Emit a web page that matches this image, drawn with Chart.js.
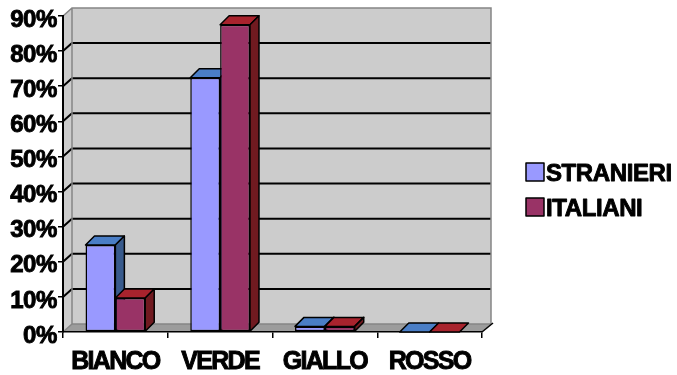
<!DOCTYPE html>
<html>
<head>
<meta charset="utf-8">
<script src="https://cdn.jsdelivr.net/npm/chart.js@4.4.1/dist/chart.umd.min.js"></script>
<style>
  html, body { margin: 0; padding: 0; background: #ffffff; }
  #wrap { width: 677px; height: 375px; }
</style>
</head>
<body>
<div id="wrap"><canvas id="chart" width="677" height="375"></canvas></div>
<script>
// Colour preferences by group (percent of respondents)
const categories = ['BIANCO', 'VERDE', 'GIALLO', 'ROSSO'];
const seriesNames = ['STRANIERI', 'ITALIANI'];
const stranieri = [24.8, 72.4, 1.6, 0];
const italiani = [9.7, 87.5, 1.6, 0];
const yMax = 90;
const yStep = 10;

const FONT = '"Liberation Sans", Arial, sans-serif';

// Shading for the three visible faces of each 3D column
const faces = [
  { front: '#9999FF', top: '#4A7EC6', side: '#385A8C' },
  { front: '#993366', top: '#A8232D', side: '#701A20' }
];
const WALL = { dx: 9, dy: -8 };
const COL = { dx: 9, dy: -9 };

function poly(ctx, pts, fill, stroke, lw) {
  ctx.beginPath();
  ctx.moveTo(pts[0][0], pts[0][1]);
  for (let i = 1; i < pts.length; i++) ctx.lineTo(pts[i][0], pts[i][1]);
  ctx.closePath();
  if (fill) { ctx.fillStyle = fill; ctx.fill(); }
  if (stroke) { ctx.strokeStyle = stroke; ctx.lineWidth = lw; ctx.stroke(); }
}

function spaceLabels(scale, spacing) {
  if (scale._spaced) return;
  const orig = scale.drawLabels.bind(scale);
  scale.drawLabels = function (area) {
    const c = this.ctx;
    c.save();
    c.letterSpacing = spacing;
    orig(area);
    c.restore();
  };
  scale._spaced = true;
}

const box3d = {
  id: 'box3d',
  beforeDraw(chart) {
    const { ctx, chartArea: a, scales } = chart;
    spaceLabels(scales.x, '-1.7px');
    spaceLabels(scales.y, '-0.4px');
    const { dx, dy } = WALL;
    ctx.save();
    // side wall and back wall
    poly(ctx, [[a.left, a.top], [a.left + dx, a.top + dy], [a.left + dx, a.bottom + dy], [a.left, a.bottom]], '#CCCCCC');
    poly(ctx, [[a.left + dx, a.top + dy], [a.right + dx, a.top + dy], [a.right + dx, a.bottom + dy], [a.left + dx, a.bottom + dy]], '#CCCCCC');
    // floor
    poly(ctx, [[a.left, a.bottom], [a.right, a.bottom], [a.right + dx, a.bottom + dy], [a.left + dx, a.bottom + dy]], '#9C9C9C');
    // gridlines running across the side wall and the back wall
    ctx.strokeStyle = '#000000';
    ctx.lineWidth = 2;
    for (let v = yStep; v < yMax; v += yStep) {
      const py = scales.y.getPixelForValue(v);
      ctx.beginPath();
      ctx.moveTo(a.left, py);
      ctx.lineTo(a.left + dx, py + dy);
      ctx.lineTo(a.right + dx, py + dy);
      ctx.stroke();
    }
    // wall edges
    ctx.strokeStyle = '#858585';
    ctx.lineWidth = 1.5;
    ctx.beginPath();
    ctx.moveTo(a.left, a.top);
    ctx.lineTo(a.left + dx, a.top + dy);
    ctx.lineTo(a.right + dx, a.top + dy);
    ctx.lineTo(a.right + dx, a.bottom + dy);
    ctx.moveTo(a.left + dx, a.top + dy);
    ctx.lineTo(a.left + dx, a.bottom + dy);
    ctx.lineTo(a.right + dx, a.bottom + dy);
    ctx.moveTo(a.left, a.bottom);
    ctx.lineTo(a.left + dx, a.bottom + dy);
    ctx.stroke();
    ctx.strokeStyle = '#000000';
    ctx.beginPath();
    ctx.moveTo(a.right, a.bottom);
    ctx.lineTo(a.right + dx + 2, a.bottom + dy - 1);
    ctx.stroke();
    ctx.restore();
  },
  // columns are painted below, series by series, so that each column's
  // front, top and side faces stack in the right order
  beforeDatasetDraw() {
    return false;
  },
  afterDatasetsDraw(chart) {
    const ctx = chart.ctx;
    const { dx, dy } = COL;
    ctx.save();
    ctx.lineJoin = 'round';
    chart.data.datasets.forEach((ds, i) => {
      const meta = chart.getDatasetMeta(i);
      if (meta.hidden) return;
      const f = faces[i];
      meta.data.forEach(bar => {
        const { x, y, base, width } = bar.getProps(['x', 'y', 'base', 'width'], true);
        const l = x - width / 2, r = x + width / 2;
        bar.draw(ctx);
        poly(ctx, [[l, y], [r, y], [r + dx, y + dy], [l + dx, y + dy]], f.top, '#000000', 1.5);
        if (base - y > 0.5) {
          poly(ctx, [[r, y], [r + dx, y + dy], [r + dx, base + dy], [r, base]], f.side, '#000000', 1.5);
        }
      });
    });
    ctx.restore();
  },
  afterDraw(chart) {
    // legend
    const ctx = chart.ctx;
    ctx.save();
    ctx.font = 'bold 24px ' + FONT;
    ctx.letterSpacing = '-0.4px';
    ctx.textBaseline = 'alphabetic';
    ctx.textAlign = 'left';
    ctx.lineJoin = 'round';
    const mid = chart.height / 2;
    chart.data.datasets.forEach((ds, i) => {
      const top = mid - 24.5 + i * 35;
      ctx.fillStyle = ds.backgroundColor;
      ctx.fillRect(526, top, 18, 18);
      ctx.strokeStyle = '#000000';
      ctx.lineWidth = 1.5;
      ctx.strokeRect(526, top, 18, 18);
      ctx.fillStyle = '#000000';
      ctx.lineWidth = 0.9;
      ctx.strokeText(ds.label, 546, top + 18);
      ctx.fillText(ds.label, 546, top + 18);
    });
    ctx.restore();
  }
};

new Chart(document.getElementById('chart'), {
  type: 'bar',
  data: {
    labels: categories,
    datasets: [
      { label: seriesNames[0], data: stranieri, backgroundColor: faces[0].front },
      { label: seriesNames[1], data: italiani, backgroundColor: faces[1].front }
    ]
  },
  options: {
    responsive: false,
    animation: false,
    devicePixelRatio: 1,
    layout: { padding: { top: 16, right: 195, bottom: 0, left: 0 } },
    datasets: {
      bar: {
        borderColor: '#000000',
        borderWidth: 1.5,
        borderSkipped: false,
        categoryPercentage: 0.57,
        barPercentage: 1
      }
    },
    plugins: {
      legend: { display: false },
      tooltip: { enabled: false }
    },
    scales: {
      x: {
        grid: { offset: true, drawOnChartArea: false, drawTicks: true, tickLength: 6, color: '#000000', lineWidth: 1.5 },
        border: { display: true, color: '#000000', width: 1.5 },
        ticks: {
          color: '#000000',
          font: { family: FONT, size: 25, weight: 'bold' },
          textStrokeColor: '#000000',
          textStrokeWidth: 0.9,
          padding: 9,
          maxRotation: 0,
          autoSkip: false
        },
        afterFit(s) { s.height = 43; }
      },
      y: {
        min: 0,
        max: yMax,
        grid: { drawOnChartArea: false, drawTicks: true, tickLength: 5, color: '#000000', lineWidth: 1.5 },
        border: { display: true, color: '#000000', width: 2 },
        ticks: {
          stepSize: yStep,
          color: '#000000',
          font: { family: FONT, size: 24, weight: 'bold' },
          textStrokeColor: '#000000',
          textStrokeWidth: 0.9,
          padding: 1,
          labelOffset: 4,
          callback: v => v + '%'
        },
        afterFit(s) { s.width = 63; }
      }
    }
  },
  plugins: [box3d]
});
</script>
</body>
</html>
